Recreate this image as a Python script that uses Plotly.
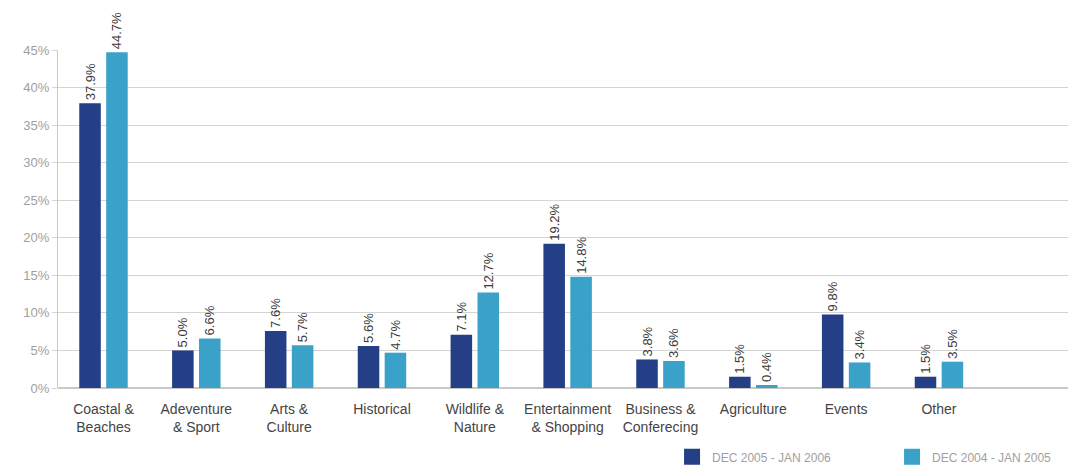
import plotly.graph_objects as go

# Share of visitors by activity / interest, two seasons
categories = [
    "Coastal &<br>Beaches", "Adeventure<br>& Sport", "Arts &<br>Culture", "Historical",
    "Wildlife &<br>Nature", "Entertainment<br>& Shopping", "Business &<br>Conferecing",
    "Agriculture", "Events", "Other",
]
season_2006 = [37.9, 5.0, 7.6, 5.6, 7.1, 19.2, 3.8, 1.5, 9.8, 1.5]
season_2005 = [44.7, 6.6, 5.7, 4.7, 12.7, 14.8, 3.6, 0.4, 3.4, 3.5]
series_names = ["DEC 2005 - JAN 2006", "DEC 2004 - JAN 2005"]
y_ticks = [0, 5, 10, 15, 20, 25, 30, 35, 40, 45]

x = list(range(len(categories)))
colors = ["#253f87", "#3aa2c9"]
FONT = "Liberation Sans, Arial, sans-serif"

fig = go.Figure()
for name, vals, col in zip(series_names, [season_2006, season_2005], colors):
    fig.add_trace(go.Bar(
        x=x, y=vals, name=name, showlegend=False,
        marker=dict(color=col, line=dict(width=0)),
        text=[f"{v:.1f}%" for v in vals],
        textposition="outside", textangle=-90, constraintext="none",
        textfont=dict(size=13, color="#3a3a3a", family=FONT),
        cliponaxis=False,
    ))

# Legend keys drawn as larger squares
for name, col in zip(series_names, colors):
    fig.add_trace(go.Scatter(
        x=[None], y=[None], mode="markers", name=name,
        marker=dict(symbol="square", size=16, color=col),
    ))

fig.update_layout(
    width=1077, height=470,
    margin=dict(l=58, r=9, t=50, b=82, autoexpand=False),
    paper_bgcolor="white", plot_bgcolor="white",
    barmode="group", bargap=0.42, bargroupgap=0.2,
    font=dict(family=FONT, size=13, color="#444444"),
    showlegend=True,
    legend=dict(
        orientation="h", xref="container", yref="container",
        x=0.624, xanchor="left", y=0.028, yanchor="middle",
        entrywidth=175, entrywidthmode="pixels",
        font=dict(size=12, color="#a0a0a0"), itemsizing="trace",
        traceorder="normal", bgcolor="rgba(0,0,0,0)",
    ),
    xaxis=dict(
        tickmode="array", tickvals=x, ticktext=categories,
        range=[-0.49, 10.39], showgrid=False, zeroline=False,
        showline=False, ticks="", ticklabelstandoff=11,
        tickfont=dict(size=14, color="#444444"),
    ),
    yaxis=dict(
        range=[0, 45], tickmode="array", tickvals=y_ticks,
        ticktext=[f"{t}%" for t in y_ticks],
        showgrid=True, gridcolor="#d4d4d4", gridwidth=1,
        zeroline=True, zerolinecolor="#c8c8c8",
        showline=True, linecolor="#c8c8c8", linewidth=1,
        ticks="outside", ticklen=5, tickcolor="#d4d4d4",
        tickfont=dict(size=13, color="#a0a0a0"),
    ),
)

fig.write_html("out.html")
